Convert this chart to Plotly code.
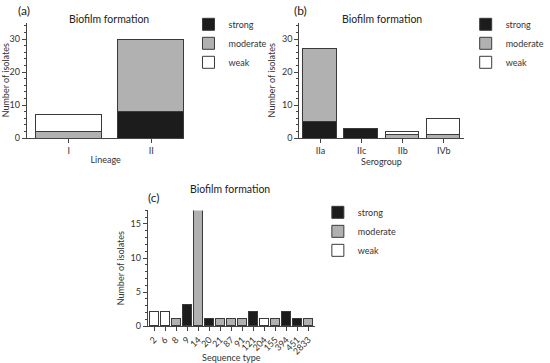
import plotly.graph_objects as go

FONT = "Lato"
C_STRONG = "#1c1c1c"
C_MOD = "#b1b1b1"
C_WEAK = "#ffffff"
EDGE = "#3a3a3a"

# Panel (a)
lineage = ["I", "II"]
a_strong = [0, 8]
a_moderate = [2, 22]
a_weak = [5, 0]

# Panel (b)
serogroup = ["IIa", "IIc", "IIb", "IVb"]
b_strong = [5, 3, 0, 0]
b_moderate = [22, 0, 1, 1]
b_weak = [0, 0, 1, 5]

# Panel (c)
seqtype = ["2", "6", "8", "9", "14", "20", "21", "87", "91", "121", "204", "155", "394", "451", "2833"]
c_strong = [None, None, None, 3, None, 1, None, None, None, 2, None, None, 2, 1, None]
c_moderate = [None, None, 1, None, 17, None, 1, 1, 1, None, None, 1, None, None, 1]
c_weak = [2, 2, None, None, None, None, None, None, None, None, 1, None, None, None, None]

names = ["strong", "moderate", "weak"]
colors = [C_STRONG, C_MOD, C_WEAK]

fig = go.Figure()

def add(xcats, series, xa, ya, legend, width):
    for nm, col, vals in zip(names, colors, series):
        fig.add_trace(go.Bar(
            x=xcats, y=vals, name=nm, marker=dict(color=col, line=dict(color=EDGE, width=1)),
            width=width, xaxis=xa, yaxis=ya, legend=legend, showlegend=True))

add(lineage, [a_strong, a_moderate, a_weak], "x", "y", "legend", 0.8)
add(serogroup, [b_strong, b_moderate, b_weak], "x2", "y2", "legend2", 0.82)
add(seqtype, [c_strong, c_moderate, c_weak], "x3", "y3", "legend3", 0.82)

axfont = dict(family=FONT, size=9, color="#333")
common_x = dict(type="category", showline=True, linecolor="#444", linewidth=1, ticks="outside",
                ticklen=4, tickcolor="#444", tickfont=axfont, showgrid=False, zeroline=False,
                automargin=False, title_font=dict(family=FONT, size=9, color="#333"))
common_y = dict(showline=True, linecolor="#444", linewidth=1, ticks="outside", ticklen=4,
                tickcolor="#444", tickfont=axfont, showgrid=False, zeroline=False, automargin=False,
                title_font=dict(family=FONT, size=9, color="#333"), title_standoff=4)

y_top = 0.938
y_bot = 0.6198
legfont = dict(family=FONT, size=9, color="#333")


def label(text, px, py, size):
    return dict(text=text, x=px/550, y=1-py/363, xref="paper", yref="paper", showarrow=False,
                xanchor="center", yanchor="middle", font=dict(family=FONT, size=size, color="#222"))


fig.update_layout(
    width=550, height=363, margin=dict(l=0, r=0, t=0, b=0),
    paper_bgcolor="white", plot_bgcolor="white", barmode="stack", bargap=0,
    font=dict(family=FONT, size=9, color="#333"),
    xaxis=dict(common_x, domain=[0.0509, 0.349], anchor="y", range=[-0.506, 1.40],
               title=dict(text="Lineage", standoff=1)),
    yaxis=dict(common_y, domain=[y_bot, y_top], anchor="x", range=[0, 35], tickvals=[0, 10, 20, 30],
               minor=dict(dtick=2, ticks="outside", ticklen=2, tickcolor="#444"),
               title=dict(text="Number of isolates")),
    xaxis2=dict(common_x, domain=[0.567, 0.878], anchor="y2", range=[-0.514, 3.48],
                title=dict(text="Serogroup", standoff=1)),
    yaxis2=dict(common_y, domain=[y_bot, y_top], anchor="x2", range=[0, 35], tickvals=[0, 10, 20, 30],
                minor=dict(dtick=2, ticks="outside", ticklen=2, tickcolor="#444"),
                title=dict(text="Number of isolates")),
    xaxis3=dict(common_x, domain=[0.28, 0.596], anchor="y3", range=[-0.565, 14.57], tickangle=-45,
                title=dict(text="Sequence type", standoff=6)),
    yaxis3=dict(common_y, domain=[0.1019, 0.4204], anchor="x3", range=[0, 17], tickvals=[0, 5, 10, 15],
                minor=dict(dtick=1, ticks="outside", ticklen=2, tickcolor="#444"),
                title=dict(text="Number of isolates")),
    legend=dict(x=0.357, y=0.973, xanchor="left", yanchor="top", traceorder="normal",
                font=legfont, bgcolor="rgba(0,0,0,0)"),
    legend2=dict(x=0.882, y=0.973, xanchor="left", yanchor="top", traceorder="normal",
                 font=legfont, bgcolor="rgba(0,0,0,0)"),
    legend3=dict(x=0.602, y=0.455, xanchor="left", yanchor="top", traceorder="normal",
                 font=legfont, bgcolor="rgba(0,0,0,0)"),
    annotations=[
        label("(a)", 25, 10, 12),
        label("(b)", 313, 10, 12),
        label("(c)", 160, 198, 12),
        label("Biofilm formation", 114, 19, 10.5),
        label("Biofilm formation", 398, 19, 10.5),
        label("Biofilm formation", 240, 189, 10.5),
    ],
)

fig.write_html("out.html", config={"displayModeBar": False},
               post_script="document.body.style.margin='0';document.body.style.overflow='hidden';")
